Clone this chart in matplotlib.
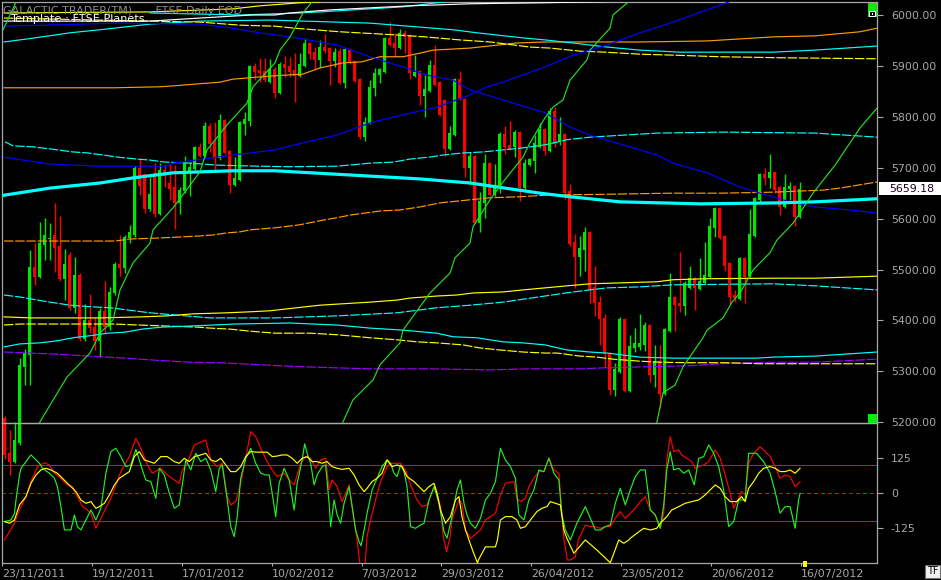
import numpy as np
import matplotlib
matplotlib.use("Agg")
import matplotlib.pyplot as plt
from matplotlib.patches import Rectangle
from matplotlib.ticker import FormatStrFormatter

# ---------------- data ----------------
date_labels = ["23/11/2011", "19/12/2011", "17/01/2012", "10/02/2012", "7/03/2012",
               "29/03/2012", "26/04/2012", "23/05/2012", "20/06/2012", "16/07/2012"]
date_bars = [0, 18, 36, 54, 72, 88, 106, 124, 142, 160]

opens = [5208, 5140, 5122, 5159, 5308, 5332, 5505, 5485, 5548, 5560,
         5568, 5546, 5481, 5528, 5424, 5489, 5363, 5401, 5387, 5360,
         5419, 5387, 5454, 5511, 5503, 5562, 5568, 5700, 5688, 5619,
         5690, 5609, 5695, 5670, 5662, 5631, 5654, 5690, 5697, 5741,
         5723, 5782, 5751, 5719, 5794, 5733, 5666, 5676, 5786, 5792,
         5900, 5892, 5890, 5868, 5894, 5847, 5904, 5900, 5892, 5880,
         5900, 5945, 5927, 5912, 5937, 5935, 5910, 5929, 5866, 5931,
         5910, 5874, 5760, 5788, 5857, 5882, 5888, 5955, 5945, 5935,
         5965, 5961, 5880, 5890, 5841, 5851, 5902, 5868, 5833, 5737,
         5764, 5874, 5835, 5700, 5723, 5591, 5631, 5709, 5646, 5664,
         5766, 5745, 5741, 5770, 5660, 5705, 5713, 5741, 5776, 5733,
         5811, 5752, 5766, 5654, 5554, 5525, 5538, 5574, 5466, 5436,
         5405, 5336, 5263, 5299, 5403, 5261, 5346, 5348, 5352, 5391,
         5293, 5320, 5255, 5379, 5446, 5434, 5428, 5464, 5483, 5462,
         5473, 5485, 5582, 5621, 5566, 5513, 5450, 5442, 5523, 5487,
         5566, 5637, 5688, 5680, 5692, 5662, 5623, 5658, 5664, 5603]
highs = [5212, 5185, 5200, 5326, 5344, 5538, 5552, 5593, 5601, 5591,
         5631, 5605, 5540, 5534, 5525, 5493, 5432, 5452, 5407, 5424,
         5477, 5466, 5515, 5568, 5568, 5587, 5703, 5719, 5690, 5682,
         5709, 5709, 5707, 5707, 5705, 5662, 5723, 5711, 5743, 5749,
         5790, 5788, 5790, 5806, 5796, 5735, 5721, 5792, 5809, 5902,
         5906, 5916, 5916, 5914, 5898, 5908, 5919, 5917, 5925, 5925,
         5955, 5947, 5937, 5951, 5963, 5937, 5935, 5935, 5935, 5935,
         5912, 5876, 5800, 5872, 5896, 5896, 5957, 5986, 5965, 5972,
         5971, 5963, 5921, 5892, 5882, 5912, 5941, 5870, 5835, 5782,
         5876, 5890, 5837, 5731, 5725, 5652, 5727, 5711, 5707, 5770,
         5782, 5792, 5774, 5772, 5717, 5719, 5764, 5788, 5778, 5817,
         5819, 5800, 5768, 5668, 5570, 5566, 5583, 5576, 5507, 5448,
         5413, 5338, 5316, 5407, 5405, 5371, 5385, 5413, 5397, 5393,
         5352, 5352, 5385, 5493, 5448, 5534, 5477, 5507, 5485, 5523,
         5554, 5601, 5623, 5623, 5568, 5515, 5460, 5525, 5525, 5619,
         5642, 5690, 5700, 5727, 5694, 5664, 5688, 5672, 5666, 5672]
lows = [5128, 5096, 5120, 5155, 5273, 5273, 5470, 5483, 5519, 5519,
        5495, 5478, 5440, 5420, 5415, 5360, 5360, 5375, 5342, 5328,
        5375, 5381, 5450, 5487, 5493, 5552, 5564, 5646, 5611, 5615,
        5603, 5607, 5662, 5637, 5580, 5609, 5650, 5644, 5695, 5721,
        5721, 5731, 5694, 5715, 5727, 5650, 5664, 5674, 5764, 5782,
        5872, 5868, 5868, 5866, 5837, 5845, 5878, 5878, 5829, 5878,
        5898, 5914, 5894, 5898, 5925, 5862, 5898, 5864, 5857, 5904,
        5868, 5756, 5752, 5786, 5841, 5866, 5886, 5939, 5917, 5933,
        5925, 5874, 5878, 5823, 5800, 5849, 5860, 5802, 5723, 5735,
        5762, 5833, 5682, 5670, 5589, 5574, 5601, 5644, 5644, 5650,
        5727, 5735, 5721, 5635, 5656, 5703, 5690, 5739, 5725, 5731,
        5741, 5745, 5639, 5546, 5464, 5487, 5497, 5434, 5409, 5352,
        5308, 5253, 5251, 5297, 5259, 5259, 5338, 5342, 5340, 5279,
        5269, 5228, 5253, 5377, 5379, 5417, 5411, 5462, 5420, 5460,
        5471, 5483, 5564, 5560, 5497, 5432, 5436, 5440, 5434, 5485,
        5564, 5631, 5666, 5660, 5650, 5607, 5621, 5637, 5585, 5601]
closes = [5136, 5122, 5165, 5312, 5336, 5505, 5485, 5552, 5568, 5562,
          5542, 5481, 5511, 5424, 5489, 5363, 5401, 5385, 5360, 5419,
          5387, 5456, 5511, 5503, 5564, 5574, 5700, 5664, 5619, 5648,
          5609, 5695, 5684, 5658, 5631, 5656, 5709, 5701, 5741, 5723,
          5782, 5747, 5719, 5794, 5729, 5666, 5680, 5790, 5796, 5900,
          5888, 5886, 5872, 5894, 5847, 5904, 5896, 5888, 5880, 5904,
          5945, 5923, 5912, 5937, 5929, 5910, 5927, 5866, 5933, 5906,
          5870, 5760, 5790, 5859, 5886, 5894, 5955, 5941, 5935, 5965,
          5957, 5886, 5888, 5841, 5855, 5902, 5862, 5804, 5737, 5768,
          5874, 5835, 5700, 5723, 5591, 5635, 5709, 5646, 5666, 5766,
          5741, 5737, 5770, 5660, 5709, 5717, 5749, 5776, 5733, 5811,
          5747, 5766, 5650, 5550, 5525, 5542, 5574, 5460, 5434, 5403,
          5334, 5263, 5305, 5403, 5261, 5350, 5356, 5356, 5391, 5293,
          5320, 5255, 5383, 5446, 5430, 5428, 5473, 5483, 5464, 5477,
          5489, 5585, 5621, 5562, 5507, 5446, 5444, 5523, 5485, 5570,
          5640, 5688, 5680, 5692, 5656, 5623, 5662, 5664, 5603, 5659.18]

# planetary lines (bar index, price)
cyan_thick = [(-0.1, 5646), (9.1, 5660), (19.1, 5670), (25.7, 5680), (33.7, 5690), (45.7, 5694),
              (54.1, 5694), (83.1, 5678), (93.1, 5670), (107.1, 5650), (113.1, 5643), (123.1, 5633),
              (139.1, 5629), (155.1, 5631), (162.1, 5633), (174.5, 5639)]
blue_down = [(-0.1, 5978), (23.1, 5984), (39.1, 5982), (45.7, 5974), (49.7, 5967), (54.1, 5961),
             (59.7, 5953), (66.5, 5941), (73.1, 5918), (79.7, 5898), (84.5, 5882), (89.7, 5872),
             (93.1, 5853), (99.7, 5833), (108.1, 5808), (113.1, 5780), (117.1, 5764), (123.7, 5745),
             (130.5, 5725), (133.7, 5709), (140.5, 5690), (147.1, 5662), (152.5, 5646), (157.1, 5633),
             (162.1, 5623), (169.1, 5617), (174.5, 5611)]
blue_up = [(-0.1, 5721), (9.1, 5707), (19.1, 5703), (32.5, 5703), (33.7, 5709), (45.7, 5725),
           (54.1, 5735), (59.7, 5749), (66.5, 5764), (73.1, 5788), (79.7, 5804), (86.5, 5819),
           (93.1, 5843), (96.5, 5859), (99.7, 5868), (108.1, 5898), (113.7, 5921), (120.5, 5941),
           (127.1, 5965), (133.7, 5986), (140.5, 6010), (144.7, 6025), (151.1, 6053)]
green_0 = [(-0.3, 5971), (2.3, 6025), (2.7, 6035)]
green_1 = [(5.1, 5156), (7.1, 5201), (12.5, 5289), (17.1, 5336), (19.1, 5375), (21.7, 5401),
           (23.1, 5460), (25.7, 5513), (29.1, 5552), (29.7, 5578), (33.7, 5621), (39.1, 5692),
           (40.5, 5735), (44.5, 5784), (48.5, 5827), (49.7, 5859), (54.1, 5906), (55.1, 5931),
           (57.1, 5957), (59.7, 6004), (62.1, 6033)]
green_2 = [(66.1, 5165), (67.7, 5201), (69.7, 5244), (73.7, 5283), (75.1, 5313), (79.1, 5356),
           (79.7, 5381), (84.5, 5446), (85.1, 5454), (89.1, 5493), (90.1, 5523), (93.1, 5552),
           (93.7, 5584), (97.1, 5637), (99.7, 5672), (103.7, 5721), (105.1, 5749), (108.1, 5798),
           (109.7, 5819), (111.7, 5833), (113.1, 5872), (116.5, 5912), (117.1, 5931), (121.1, 5974),
           (121.7, 6000), (124.7, 6025), (126.1, 6039)]
green_3 = [(129.1, 5165), (130.5, 5201), (131.7, 5258), (134.1, 5273), (135.7, 5309), (139.7, 5366),
           (140.5, 5381), (143.7, 5405), (145.5, 5436), (147.1, 5454), (149.7, 5499), (153.1, 5533),
           (154.5, 5558), (157.7, 5591), (161.7, 5650), (166.1, 5705), (171.1, 5778), (174.5, 5817)]
orange_hi = [(-0.1, 5857), (22.1, 5857), (31.1, 5859), (34.1, 5861), (39.1, 5865), (43.1, 5868),
             (45.7, 5874), (53.1, 5880), (59.7, 5884), (63.1, 5896), (67.7, 5906), (71.5, 5908),
             (75.1, 5918), (79.7, 5918), (83.1, 5925), (85.7, 5931), (93.1, 5935), (102.5, 5945),
             (108.1, 5947), (127.1, 5947), (140.5, 5949), (147.1, 5953), (153.7, 5957), (162.1, 5959),
             (171.1, 5967), (174.5, 5974)]
orange_lo = [(-0.1, 5556), (22.1, 5556), (25.1, 5560), (31.1, 5562), (35.1, 5564), (39.1, 5566),
             (41.7, 5568), (44.5, 5572), (47.1, 5574), (49.1, 5578), (51.5, 5580), (54.1, 5582),
             (59.1, 5588), (63.7, 5597), (67.1, 5603), (69.1, 5607), (75.1, 5615), (79.1, 5617),
             (83.1, 5623), (87.1, 5631), (93.1, 5637), (97.1, 5641), (103.1, 5643), (108.1, 5646),
             (121.1, 5648), (133.1, 5650), (143.1, 5650), (153.7, 5652), (163.7, 5656), (167.1, 5660),
             (174.5, 5672)]
cyan_a = [(-0.1, 5947), (6.1, 5955), (13.1, 5965), (19.1, 5971), (29.1, 5982), (39.1, 5988),
          (53.1, 5990), (73.1, 5984), (89.7, 5971), (94.5, 5965), (103.7, 5955), (108.1, 5951),
          (113.7, 5945), (120.5, 5937), (127.1, 5931), (135.1, 5927), (153.7, 5927), (162.1, 5931),
          (174.5, 5939)]
cyan_b = [(29.1, 6004), (47.1, 6000), (59.1, 6004), (63.1, 6006), (79.7, 6016), (86.5, 6024), (91.1, 6030)]
cyan_mid = [(0.1, 5751), (1.7, 5743), (5.7, 5741), (9.1, 5737), (13.7, 5731), (16.7, 5729),
            (19.7, 5725), (22.5, 5721), (26.5, 5717), (29.1, 5715), (32.1, 5711), (37.1, 5709),
            (42.7, 5705), (50.9, 5703), (57.1, 5702), (66.5, 5703), (73.1, 5709), (77.7, 5711),
            (81.1, 5717), (85.1, 5721), (87.7, 5725), (91.7, 5729), (95.7, 5731), (99.7, 5735),
            (103.7, 5739), (108.1, 5745), (112.5, 5755), (117.1, 5760), (123.7, 5764), (130.5, 5768),
            (143.7, 5770), (162.1, 5768), (174.5, 5760)]
cyan_c = [(-0.1, 5450), (3.1, 5446), (9.1, 5436), (13.1, 5430), (17.1, 5427), (21.1, 5425),
          (29.1, 5415), (41.1, 5405), (54.1, 5405), (66.5, 5409), (78.5, 5415), (86.5, 5425),
          (93.1, 5430), (99.7, 5436), (108.1, 5448), (113.7, 5456), (120.5, 5464), (127.1, 5466),
          (133.7, 5470), (153.7, 5472), (162.1, 5468), (174.5, 5460)]
cyan_d = [(-0.1, 5348), (3.1, 5354), (7.1, 5356), (10.5, 5360), (13.7, 5366), (17.1, 5370),
          (20.7, 5375), (24.1, 5377), (27.5, 5383), (31.5, 5387), (37.1, 5389), (46.1, 5393),
          (57.1, 5395), (66.5, 5391), (73.1, 5385), (79.7, 5381), (86.5, 5375), (89.7, 5368),
          (94.5, 5366), (99.7, 5358), (103.7, 5356), (108.1, 5352), (112.5, 5342), (117.1, 5338),
          (120.5, 5336), (127.1, 5328), (133.7, 5326), (150.5, 5326), (153.7, 5328), (162.1, 5330),
          (174.5, 5338)]
yellow_a = [(-0.1, 5407), (5.5, 5405), (19.1, 5405), (27.1, 5407), (32.5, 5409), (37.7, 5413),
            (44.5, 5415), (49.1, 5417), (53.1, 5419), (58.5, 5425), (63.1, 5430), (69.7, 5434),
            (73.1, 5436), (78.5, 5440), (81.1, 5444), (86.5, 5448), (90.5, 5450), (93.7, 5454),
            (99.7, 5456), (103.7, 5460), (108.1, 5464), (112.5, 5468), (117.1, 5472), (123.7, 5474),
            (130.5, 5476), (133.7, 5480), (140.5, 5482), (153.7, 5483), (162.1, 5483), (174.5, 5487)]
yellow_b = [(-0.1, 5391), (3.1, 5393), (21.7, 5393), (27.1, 5391), (32.5, 5389), (38.5, 5387),
            (41.1, 5385), (45.1, 5383), (49.1, 5379), (54.1, 5375), (61.1, 5375), (66.5, 5372),
            (73.1, 5366), (78.5, 5362), (82.5, 5358), (86.5, 5356), (91.7, 5352), (95.1, 5346),
            (99.1, 5342), (103.7, 5338), (108.1, 5336), (110.5, 5336), (115.1, 5330), (118.5, 5328),
            (121.7, 5324), (127.1, 5320), (131.1, 5318), (137.1, 5317), (144.5, 5317), (151.1, 5315),
            (174.5, 5315)]
yellow_c = [(-0.1, 5994), (19.1, 5990), (39.1, 5986), (47.1, 5980), (54.1, 5978), (58.1, 5974),
            (67.1, 5967), (78.1, 5961), (84.1, 5957), (91.1, 5951), (97.1, 5947), (105.1, 5937),
            (109.1, 5935), (115.1, 5929), (120.1, 5927), (127.1, 5923), (134.1, 5921), (143.1, 5918),
            (155.1, 5916), (174.5, 5914)]
yellow_d = [(-0.1, 6004), (29.1, 6006), (45.7, 6012), (51.1, 6018), (59.1, 6024), (63.1, 6026), (67.1, 6033)]
white_top = [(-0.1, 5988), (29.1, 5988), (39.1, 5994), (49.5, 6000), (54.1, 6000), (57.1, 6004),
             (65.1, 6010), (73.1, 6014), (81.1, 6018), (93.1, 6022), (107.1, 6024), (119.1, 6026),
             (127.1, 6028)]
purple = [(-0.1, 5338), (5.1, 5336), (10.1, 5334), (17.1, 5330), (24.1, 5326), (30.1, 5322),
          (37.1, 5318), (43.1, 5317), (51.1, 5313), (55.1, 5311), (60.1, 5309), (66.1, 5307),
          (73.1, 5305), (85.1, 5305), (97.1, 5303), (105.1, 5305), (115.1, 5305), (120.1, 5307),
          (128.1, 5309), (137.1, 5311), (143.1, 5315), (149.1, 5317), (155.1, 5318), (162.1, 5318),
          (174.5, 5324)]

# oscillator panel (bar index, value)
osc_red = [(-0.2, -169), (0.4, -151), (1.8, -109), (2.8, -61), (4.1, -13), (5.1, 41), (6.4, 95),
           (7.8, 109), (8.8, 101), (9.8, 71), (11.1, 53), (12.4, 29), (13.4, 23), (14.4, -13),
           (15.4, -49), (16.4, -61), (17.1, -73), (18.1, -127), (19.1, -91), (21.1, -19), (23.1, 77),
           (24.8, 131), (26.1, 197), (27.1, 161), (28.4, 101), (29.4, 71), (31.1, 89), (32.4, 65),
           (33.8, 47), (34.8, 35), (35.4, 83), (36.4, 107), (37.8, 173), (40.1, 191), (41.1, 119),
           (42.4, 95), (43.4, 107), (44.4, -13), (45.1, -43), (46.1, -31), (47.1, 35), (48.1, 125),
           (49.1, 221), (50.1, 203), (51.1, 161), (52.4, 113), (53.4, 83), (54.4, 59), (55.8, 71),
           (57.1, 41), (57.8, 29), (59.1, 107), (60.1, 131), (61.1, 125), (62.1, 89), (63.1, 119),
           (64.1, 125), (64.8, 11), (65.4, 47), (66.4, 23), (67.4, -31), (68.8, 29), (69.8, -97),
           (70.4, -169), (71.0, -260), (72.0, -255), (72.4, -157), (73.1, -97), (74.1, -25),
           (75.1, 41), (76.4, 95), (77.1, 107), (79.1, 107), (80.1, 83), (81.1, 29), (82.4, -25),
           (83.4, -49), (84.4, -43), (85.4, -1), (86.1, 23), (87.1, -49), (87.6, -150), (88.3, -212),
           (89.0, -160), (89.4, -97), (90.8, -25), (91.4, -37), (92.1, -133), (93.1, -163),
           (95.1, -133), (96.1, -97), (97.1, -85), (98.1, -73), (99.1, -7), (100.1, 35), (101.8, 41),
           (102.4, -19), (103.1, -31), (104.1, -19), (104.8, 23), (105.8, 53), (106.8, 77),
           (107.8, 77), (108.8, 125), (109.8, 83), (110.8, 71), (111.4, -73), (111.8, -165),
           (112.5, -241), (113.1, -241), (114.1, -230), (114.7, -169), (116.1, -115), (117.1, -121),
           (118.1, -121), (119.1, -127), (120.1, -121), (121.1, -121), (122.1, -91), (123.1, -67),
           (124.1, -91), (125.1, -73), (126.1, -55), (127.1, -31), (128.1, -13), (129.1, -61),
           (130.1, -79), (131.1, -127), (131.8, -73), (132.4, 119), (133.1, 203), (133.8, 149),
           (134.8, 155), (135.4, 137), (136.4, 125), (137.4, 113), (138.1, 89), (138.8, 95),
           (139.8, 101), (140.8, 113), (142.1, 155), (143.1, 125), (144.1, 65), (145.1, -1),
           (145.8, -55), (146.8, -19), (147.4, 5), (148.1, -7), (148.8, 107), (149.8, 143),
           (151.1, 167), (152.1, 149), (153.1, 131), (154.1, 95), (155.1, 53), (156.1, 65),
           (157.1, 59), (158.1, 23), (159.1, 41)]
osc_green = [(-0.2, -103), (1.1, -97), (1.8, -73), (2.1, -25), (2.8, 65), (3.1, 89), (4.1, 113),
             (5.1, 137), (5.8, 125), (6.8, 107), (7.4, 89), (8.8, 71), (9.8, 53), (10.4, 23),
             (11.1, -49), (11.8, -133), (13.1, -133), (13.8, -79), (14.4, -121), (15.1, -133),
             (16.1, -97), (17.1, -61), (18.1, -97), (19.1, -55), (20.1, 71), (21.1, 149), (22.1, 161),
             (23.1, 131), (24.1, 95), (25.1, 101), (26.1, 157), (26.8, 119), (27.4, 83), (28.1, 47),
             (29.1, 41), (29.8, -1), (30.1, -19), (30.8, 89), (31.8, 65), (32.8, -1), (33.8, -55),
             (34.8, -43), (35.4, 29), (36.1, 119), (37.1, 83), (38.1, 143), (39.1, 113), (40.1, 125),
             (41.1, 83), (42.1, 5), (42.8, 89), (43.4, 101), (44.4, -25), (45.1, -121), (45.8, -157),
             (46.4, -85), (47.1, 53), (48.1, 125), (49.1, 161), (50.1, 107), (51.1, 71), (52.1, 65),
             (52.8, 65), (53.4, -1), (54.1, -85), (54.8, 35), (55.8, 89), (56.8, 47), (57.8, -61),
             (58.4, 35), (59.4, 119), (59.9, 177), (60.4, 143), (61.1, 107), (61.8, 29), (62.4, 65),
             (63.4, 95), (64.1, 101), (64.8, -37), (65.1, -121), (65.8, -25), (66.4, -79),
             (67.1, -109), (67.8, -37), (68.8, 23), (69.4, -49), (70.1, -133), (70.8, -175),
             (71.2, -190), (71.8, -133), (72.4, -73), (73.4, 11), (74.4, 53), (75.4, 95), (76.4, 119),
             (77.1, 107), (77.8, 71), (78.4, 59), (79.1, 101), (79.8, 77), (80.4, 23), (81.1, -121),
             (82.1, -127), (83.1, -115), (83.8, -109), (84.8, -25), (85.8, 23), (86.8, -37),
             (87.8, -139), (88.4, -163), (89.4, -85), (90.4, 11), (91.1, 47), (91.8, -37),
             (92.4, -79), (93.1, -109), (94.1, -127), (95.1, -91), (96.1, -25), (97.1, -1),
             (98.1, 41), (99.1, 161), (100.1, 119), (101.1, 95), (102.1, 53), (102.8, -79),
             (103.8, -97), (104.8, -25), (105.8, 11), (106.8, 83), (107.8, 77), (108.8, 125),
             (109.8, 71), (110.8, 47), (111.4, -79), (112.1, -133), (113.1, -169), (114.4, -109),
             (116.1, -49), (117.1, -91), (118.1, -133), (119.1, -133), (120.1, -121), (121.1, -115),
             (122.1, -37), (123.1, 17), (124.1, -43), (125.1, 11), (126.1, 59), (127.1, 83),
             (128.1, 83), (129.1, -61), (130.1, -79), (131.1, -127), (131.8, -43), (132.4, 83),
             (133.1, 149), (133.8, 83), (134.8, 89), (135.8, 71), (136.8, 83), (137.9, 29),
             (138.8, 125), (139.8, 131), (140.8, 173), (141.8, 143), (142.8, 95), (143.8, 11),
             (144.8, -121), (145.8, -103), (146.8, -25), (148.1, -25), (148.8, 143), (150.4, 143),
             (151.8, 113), (153.1, 71), (154.1, 5), (155.1, -73), (156.1, -49), (157.1, -49),
             (158.1, -127), (158.8, -25), (159.1, -1)]
osc_yellow = [(-0.2, -103), (0.8, -109), (1.8, -97), (2.8, -43), (4.1, -13), (5.1, 35), (6.1, 65),
              (7.1, 83), (8.1, 89), (9.1, 83), (10.4, 71), (11.4, 53), (12.4, 35), (13.1, 23),
              (14.1, 5), (15.1, -25), (16.1, -37), (17.1, -31), (18.1, -55), (18.8, -49), (19.8, -37),
              (20.8, -7), (21.8, 29), (22.8, 53), (23.8, 65), (24.8, 77), (25.8, 131), (26.8, 149),
              (27.8, 119), (28.8, 113), (29.8, 107), (31.1, 131), (32.4, 131), (33.8, 113),
              (34.8, 107), (35.8, 125), (36.8, 113), (37.8, 131), (39.1, 137), (40.1, 143),
              (41.1, 119), (42.1, 113), (43.1, 125), (44.1, 101), (45.1, 77), (46.1, 77), (47.1, 95),
              (48.1, 131), (49.1, 149), (50.4, 147), (52.4, 147), (53.4, 131), (54.4, 133),
              (55.4, 137), (56.4, 137), (57.4, 125), (58.4, 107), (59.4, 125), (60.4, 131),
              (61.4, 113), (62.4, 113), (63.4, 107), (64.4, 113), (65.4, 95), (66.4, 89), (67.4, 85),
              (68.8, 89), (69.8, 65), (70.8, 29), (71.8, 5), (72.4, 17), (73.4, 41), (74.4, 53),
              (75.4, 71), (76.4, 119), (77.4, 95), (78.4, 101), (79.4, 95), (80.4, 59), (81.8, 41),
              (82.8, 23), (83.8, 5), (84.8, 23), (85.8, 35), (86.4, -1), (87.1, -61), (88.1, -109),
              (89.1, -85), (90.1, -25), (90.8, -13), (91.4, -85), (92.1, -133), (92.8, -169),
              (93.5, -205), (94.5, -252), (94.7, -241), (96.1, -194), (98.1, -194), (98.5, -169),
              (99.1, -97), (100.1, -85), (101.4, -85), (102.4, -97), (103.1, -127), (104.1, -121),
              (105.1, -97), (106.4, -67), (107.4, -55), (108.4, -49), (109.1, -31), (110.1, -37),
              (111.1, -43), (111.8, -133), (112.4, -163), (113.8, -217), (116.1, -169), (118.4, -205),
              (121.1, -251), (122.8, -169), (123.8, -181), (124.8, -169), (125.1, -163), (126.4, -145),
              (127.8, -127), (129.1, -133), (130.4, -127), (131.1, -109), (132.4, -85), (133.4, -61),
              (134.8, -49), (136.1, -37), (137.4, -31), (138.8, -25), (140.1, -7), (141.1, 11),
              (142.1, 29), (143.1, 17), (144.1, -13), (145.1, -31), (146.4, -31), (147.4, -13),
              (148.1, -31), (148.8, 17), (149.8, 41), (150.8, 71), (151.8, 89), (153.1, 95),
              (154.1, 89), (155.1, 77), (156.1, 77), (157.1, 83), (158.1, 71), (159.1, 89)]
osc_levels = [100, -100]

# ---------------- figure ----------------
W, H = 941, 580
GREY = "#a8a8a8"
BULL = "#00e600"
BEAR = "#ff0000"
THIN = 0.85
PX = 0.72  # one pixel in points at 100 dpi

fig = plt.figure(figsize=(W / 100, H / 100), dpi=100, facecolor="black")
ax2 = fig.add_axes([2 / W, 1 - 563 / H, 875 / W, 140 / H], facecolor="black")
ax1 = fig.add_axes([2 / W, 1 - 423 / H, 875 / W, 421 / H])
ax1.set_facecolor("none")
ax1.set_zorder(2)
ax2.set_zorder(1)

# candles
n = len(closes)
x = np.arange(n)
o = np.array(opens, float)
c = np.array(closes, float)
cols = [BULL if c[i] >= o[i] else BEAR for i in range(n)]
body_lo = np.minimum(o, c)
body_h = np.maximum(np.abs(c - o), 2.0)
ax1.vlines(x, lows, highs, colors=cols, lw=1.0, clip_on=False, zorder=2, snap=True)
ax1.bar(x, body_h, bottom=body_lo, width=0.62, color=cols, lw=0, clip_on=False, zorder=2)

# planetary lines
dash = (0, (8, 1.5))
overlays = [
    (purple, "#9b00ff", THIN, dash),
    (yellow_b, "#ffff00", THIN, dash),
    (yellow_a, "#ffff00", THIN, "-"),
    (cyan_d, "#00ffff", THIN, "-"),
    (cyan_c, "#00ffff", THIN, dash),
    (orange_lo, "#ff9a00", THIN, dash),
    (cyan_mid, "#00ffff", THIN, dash),
    (orange_hi, "#ff9a00", THIN, "-"),
    (yellow_c, "#ffff00", THIN, dash),
    (yellow_d, "#ffff00", THIN, "-"),
    (cyan_a, "#00ffff", THIN, "-"),
    (cyan_b, "#00ffff", THIN, "-"),
    (white_top, "#ffffff", THIN, "-"),
    (blue_down, "#0000ff", THIN, "-"),
    (blue_up, "#0000ff", THIN, "-"),
    (cyan_thick, "#00ffff", 2.3, "-"),
    (green_0, "#22e022", THIN, "-"),
    (green_1, "#22e022", THIN, "-"),
    (green_2, "#22e022", THIN, "-"),
    (green_3, "#22e022", THIN, "-"),
]
for pts, col, lw, ls in overlays:
    xs, ys = zip(*pts)
    ax1.plot(xs, ys, color=col, lw=lw, ls=ls, zorder=3)

ax1.set_xlim(-0.5, 174.5)
ax1.set_ylim(5198.6, 6025.5)
ax1.yaxis.tick_right()
ax1.set_yticks(np.arange(5200, 6001, 100))
ax1.yaxis.set_major_formatter(FormatStrFormatter("%.2f"))
ax1.tick_params(axis="y", colors=GREY, labelcolor=GREY, length=4, width=0.8,
                pad=6, labelsize=7.9, direction="out")
ax1.tick_params(axis="x", bottom=False, labelbottom=False)
for sp in ax1.spines.values():
    sp.set_color(GREY)
    sp.set_linewidth(0.9)

# oscillator panel
for lvl in osc_levels:
    ax2.axhline(lvl, color=BEAR, lw=PX, zorder=1, snap=True, antialiased=False)
ax2.axhline(0, color=BEAR, lw=PX, ls=(0, (3, 3)), zorder=1, snap=True, antialiased=False)
for pts, col in [(osc_red, "#ff0000"), (osc_green, "#22ee22"), (osc_yellow, "#ffff00")]:
    xs, ys = zip(*pts)
    ax2.plot(xs, ys, color=col, lw=THIN, zorder=2)

ax2.set_xlim(-0.5, 174.5)
ax2.set_ylim(-252, 252)
ax2.yaxis.tick_right()
ax2.set_yticks([-125, 0, 125])
ax2.set_yticklabels(["-125", "0", "125"])
ax2.set_xticks([b - 0.7 for b in date_bars])
ax2.set_xticklabels(date_labels)
for lbl in ax2.get_xticklabels():
    lbl.set_ha("left")
ax2.tick_params(axis="both", colors=GREY, labelcolor=GREY, width=0.8, labelsize=7.9)
ax2.tick_params(axis="y", length=4, pad=6)
ax2.tick_params(axis="x", length=2.5, pad=1.5)
for sp in ax2.spines.values():
    sp.set_color(GREY)
    sp.set_linewidth(0.9)


def px_rect(x0, y0, w, h, **kw):
    r = Rectangle((x0 / W, 1 - (y0 + h) / H), w / W, h / H, transform=fig.transFigure, **kw)
    fig.patches.append(r)


# last price tag
y_disp = ax1.transData.transform((0, closes[-1]))[1]
y_top = H - y_disp
px_rect(879, y_top - 6.5, 62, 13, facecolor="white", edgecolor="none", zorder=5)
fig.text(889 / W, y_disp / H, "%.2f" % closes[-1], color="#200018", fontsize=7.9,
         va="center", ha="left", zorder=6)

# widgets
px_rect(868, 3, 9, 14, facecolor="#00ee00", edgecolor="none", zorder=5)
px_rect(869, 11, 7, 6, facecolor="white", edgecolor="none", zorder=6)
px_rect(870, 12, 5, 4, facecolor="black", edgecolor="none", zorder=7)
px_rect(871.8, 13.2, 1.6, 1.6, facecolor="white", edgecolor="none", zorder=8)
px_rect(868, 414, 9, 9, facecolor="#00ee00", edgecolor="none", zorder=5)
px_rect(803, 561, 4, 6, facecolor="#ffff00", edgecolor="none", zorder=5)
px_rect(925, 565, 15, 13, facecolor="#f0f0f0", edgecolor="#707070", lw=0.8, zorder=5)
fig.text(932.5 / W, 1 - 571.5 / H, "TF", color="black", fontsize=7, ha="center",
         va="center", zorder=6)

# titles (overlapping like the terminal header)
fig.text(3 / W, 1 - 10.5 / H, "GALACTIC TRADER(TM)", color="#8c8c8c", fontsize=8,
         va="center", ha="left", zorder=6)
fig.text(148 / W, 1 - 10.5 / H, "- FTSE Daily EOD", color="#8c8c8c", fontsize=8,
         va="center", ha="left", zorder=6)
fig.text(10 / W, 1 - 19 / H, "Template : FTSE Planets", color="white", fontsize=8.1,
         va="center", ha="left", zorder=7)

fig.savefig("out.png", dpi=100, facecolor="black")
